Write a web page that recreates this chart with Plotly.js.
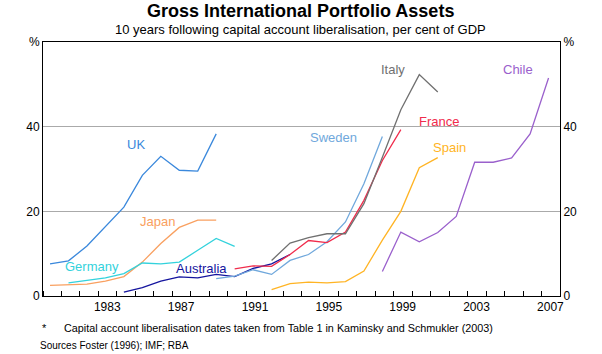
<!DOCTYPE html>
<html>
<head>
<meta charset="utf-8">
<script src="https://cdn.plot.ly/plotly-3.0.1.min.js"></script>
<style>html,body{margin:0;padding:0;background:#fff;}#chart{width:602px;height:354px;}</style>
</head>
<body>
<div id="chart"></div>
<script>
// Per cent of GDP, 10 years following capital account liberalisation
const ukYears = [1980,1981,1982,1983,1984,1985,1986,1987,1988,1989];
const ukValues = [7.6,8.3,11.8,16.3,21.0,28.5,33.0,29.7,29.5,38.3];

const japanYears = [1980,1981,1982,1983,1984,1985,1986,1987,1988,1989];
const japanValues = [2.5,2.7,2.8,3.5,4.6,8.0,12.4,16.2,17.9,17.9];

const germanyYears = [1981,1982,1983,1984,1985,1986,1987,1988,1989,1990];
const germanyValues = [3.1,3.7,4.3,5.3,7.8,7.6,8.0,10.8,13.6,11.7];

const australiaYears = [1984,1985,1986,1987,1988,1989,1990,1991,1992,1993];
const australiaValues = [0.9,2.0,3.5,4.5,4.3,5.1,4.6,6.5,7.6,9.8];

const swedenYears = [1989,1990,1991,1992,1993,1994,1995,1996,1997,1998];
const swedenValues = [4.1,4.7,6.2,5.1,8.4,9.8,12.8,17.5,26.5,37.7];

const franceYears = [1990,1991,1992,1993,1994,1995,1996,1997,1998,1999];
const franceValues = [6.4,7.1,7.0,9.8,13.1,12.6,15.1,22.6,32.0,39.3];

const italyYears = [1992,1993,1994,1995,1996,1997,1998,1999,2000,2001];
const italyValues = [8.4,12.5,13.8,14.7,14.7,21.8,32.8,44.0,52.3,48.2];

const spainYears = [1992,1993,1994,1995,1996,1997,1998,1999,2000,2001];
const spainValues = [1.5,2.9,3.3,3.1,3.4,5.9,13.2,20.0,30.3,32.7];

const chileYears = [1998,1999,2000,2001,2002,2003,2004,2005,2006,2007];
const chileValues = [5.8,15.1,12.8,15.0,18.8,31.6,31.6,32.6,38.3,51.5];

const xTickYears = [1983,1987,1991,1995,1999,2003,2007];
const yTickVals = [0,20,40,60];
const yTickText = ['0','20','40','%'];

const series = [
  {name:'UK', x:ukYears, y:ukValues, color:'#3a88dc', lx:136, ly:144},
  {name:'Japan', x:japanYears, y:japanValues, color:'#f9a060', lx:157, ly:221},
  {name:'Germany', x:germanyYears, y:germanyValues, color:'#33d2dc', lx:92, ly:266},
  {name:'Australia', x:australiaYears, y:australiaValues, color:'#14149e', lx:201, ly:268},
  {name:'Sweden', x:swedenYears, y:swedenValues, color:'#70a8dc', lx:333, ly:137},
  {name:'France', x:franceYears, y:franceValues, color:'#f02c4c', lx:439, ly:121},
  {name:'Italy', x:italyYears, y:italyValues, color:'#707070', lx:393, ly:69},
  {name:'Spain', x:spainYears, y:spainValues, color:'#ffb424', lx:449, ly:147},
  {name:'Chile', x:chileYears, y:chileValues, color:'#9a60cc', lx:518, ly:69}
];

const FONT = 'Arial, "Liberation Sans", sans-serif';
const L = 43, R = 42, T = 42, B = 58;
const W = 602, H = 354;
const pw = W - L - R, ph = H - T - B;

const traces = series.map((s, i) => ({
  type:'scatter', mode:'lines', x:s.x, y:s.y, name:s.name,
  line:{color:s.color, width:1.3},
  yaxis: (s.name === 'Chile') ? 'y2' : 'y',
  hoverinfo:'skip', showlegend:false
}));

const annotations = series.map(s => ({
  xref:'paper', yref:'paper',
  x:(s.lx - L)/pw, y:1 - (s.ly - T)/ph,
  text:s.name, showarrow:false, xanchor:'center', yanchor:'middle',
  font:{family:FONT, size:13, color:s.color}
}));

annotations.push(
  {xref:'paper', yref:'paper', x:(300-L)/pw, y:1 + (T-11)/ph, text:'<b>Gross International Portfolio Assets</b>',
   showarrow:false, xanchor:'center', yanchor:'middle', font:{family:FONT, size:18, color:'#000'}},
  {xref:'paper', yref:'paper', x:(300-L)/pw, y:1 + (T-29)/ph, text:'10 years following capital account liberalisation, per cent of GDP',
   showarrow:false, xanchor:'center', yanchor:'middle', font:{family:FONT, size:13, color:'#000'}},
  {xref:'paper', yref:'paper', x:(40-L)/pw, y:-(328-T-ph)/ph, text:'*',
   showarrow:false, xanchor:'left', yanchor:'middle', font:{family:FONT, size:11, color:'#000'}},
  {xref:'paper', yref:'paper', x:(62-L)/pw, y:-(328-T-ph)/ph, text:'Capital account liberalisation dates taken from Table 1 in Kaminsky and Schmukler (2003)',
   showarrow:false, xanchor:'left', yanchor:'middle', font:{family:FONT, size:10.8, color:'#000'}},
  {xref:'paper', yref:'paper', x:(38-L)/pw, y:-(345-T-ph)/ph, text:'Sources Foster (1996); IMF; RBA',
   showarrow:false, xanchor:'left', yanchor:'middle', font:{family:FONT, size:10, color:'#000'}}
);

const yCommon = {
  range:[0,60], tickvals:yTickVals, ticktext:yTickText, ticks:'', showgrid:false,
  zeroline:false, showline:true, linecolor:'#000', linewidth:1,
  tickfont:{family:FONT, size:12, color:'#000'}, fixedrange:true
};

const layout = {
  width:W, height:H,
  margin:{l:L, r:R, t:T, b:B, pad:0},
  paper_bgcolor:'#fff', plot_bgcolor:'#fff',
  showlegend:false,
  xaxis:{
    range:[1979.62, 2007.62],
    tickvals:xTickYears.map(v => v + 0.1), ticktext:xTickYears.map(String),
    ticks:'', ticklen:0, showgrid:false, zeroline:false,
    showline:true, linecolor:'#000', linewidth:1, mirror:true,
    tickfont:{family:FONT, size:12, color:'#000'},
    minor:{tick0:1979.62, dtick:1, ticks:'inside', ticklen:5, tickcolor:'#000', tickwidth:1, showgrid:false},
    fixedrange:true
  },
  yaxis: Object.assign({}, yCommon, {side:'left', showgrid:true, gridcolor:'#aaaaaa', gridwidth:1}),
  yaxis2: Object.assign({}, yCommon, {side:'right', overlaying:'y'}),
  annotations:annotations
};

Plotly.newPlot('chart', traces, layout, {staticPlot:true, displayModeBar:false});
</script>
</body>
</html>
